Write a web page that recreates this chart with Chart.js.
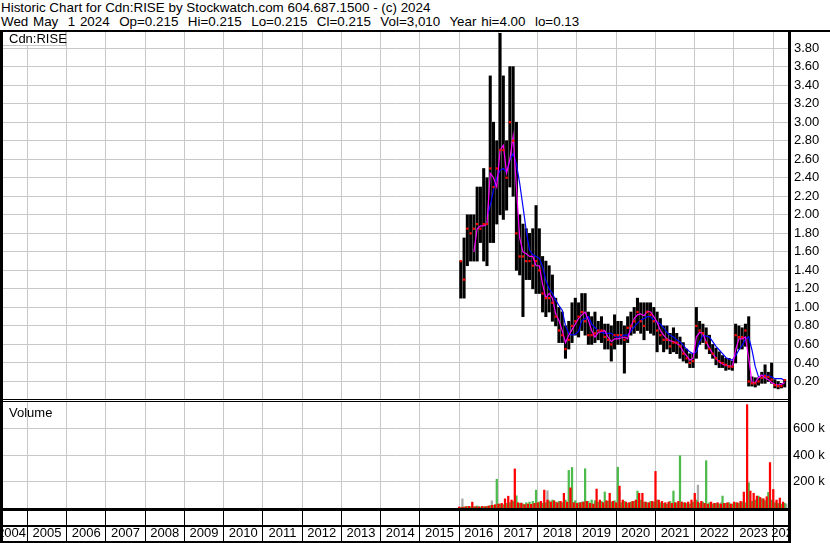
<!DOCTYPE html>
<html>
<head>
<meta charset="utf-8">
<script src="https://cdn.jsdelivr.net/npm/chart.js@4.4.1/dist/chart.umd.min.js"></script>
<style>
  html, body { margin: 0; padding: 0; background: #fff; }
  #wrap { position: relative; width: 830px; height: 543px; overflow: hidden; font-family: "Liberation Sans", Arial, sans-serif; }
  #head { position: absolute; left: 1px; top: 1px; font-size: 13.4px; line-height: 14px; white-space: pre; color: #000; }
  #head .l2 { word-spacing: 1px; }
  canvas { position: absolute; left: 0; }
  #priceCanvas { top: 32px; }
  #volCanvas { top: 402px; }
  .ln { position: absolute; background: #000; z-index: 5; }
  .lbl { position: absolute; font-size: 13px; line-height: 14px; color: #000; z-index: 6; white-space: pre; }
</style>
</head>
<body>
<div id="wrap">
  <div id="head">Historic Chart for Cdn:RISE by Stockwatch.com 604.687.1500 - (c) 2024
<span class="l2">Wed May  1 2024  Op=0.215  Hi=0.215  Lo=0.215  Cl=0.215  Vol=3,010  Year hi=4.00  lo=0.13</span></div>
  <canvas id="priceCanvas" width="830" height="368"></canvas>
  <canvas id="volCanvas" width="830" height="141"></canvas>

  <div class="lbl" style="left:3px;top:32px;width:56px;height:13px;padding-left:6px;background:#fff;border-right:1px solid #c8c8c8;border-bottom:1px solid #c8c8c8;">Cdn:RISE</div>
  <div class="lbl" style="left:9px;top:406px;">Volume</div>

  <div class="ln" style="left:0;top:30px;width:830px;height:2px"></div>
  <div class="ln" style="left:0;top:30px;width:3px;height:513px"></div>
  <div class="ln" style="left:788px;top:30px;width:3px;height:513px"></div>
  <div class="ln" style="left:0;top:399px;width:791px;height:1px"></div>
  <div class="ln" style="left:0;top:401px;width:791px;height:1px"></div>
  <div class="ln" style="left:0;top:508px;width:791px;height:3px"></div>
  <div class="ln" style="left:0;top:525px;width:791px;height:2px"></div>
  <div class="ln" style="left:0;top:541px;width:791px;height:2px"></div>
  <div class="ln" style="left:791px;top:509px;width:39px;height:34px;background:#fff"></div>
</div>

<script>
// monthly values, Jan 2016 .. Apr 2024
const firstYear = 2016;

const priceLow = [
  1.10, 1.10, 1.45, 1.50, 1.50, 1.50, 1.70, 1.50, 1.45, 1.70, 1.70, 1.90,
  2.00, 1.95, 2.05, 2.30, 2.20, 1.40, 1.35, 0.90, 1.30, 1.30, 1.20, 1.15,
  1.15, 0.95, 0.90, 0.95, 0.85, 0.80, 0.62, 0.62, 0.45, 0.55, 0.62, 0.70,
  0.68, 0.75, 0.70, 0.60, 0.60, 0.62, 0.65, 0.62, 0.55, 0.55, 0.42, 0.55,
  0.60, 0.60, 0.29, 0.62, 0.70, 0.72, 0.75, 0.72, 0.65, 0.75, 0.72, 0.70,
  0.52, 0.60, 0.52, 0.55, 0.50, 0.52, 0.50, 0.45, 0.42, 0.40, 0.35, 0.35,
  0.45, 0.60, 0.62, 0.55, 0.50, 0.45, 0.38, 0.35, 0.35, 0.32, 0.33, 0.32,
  0.40, 0.55, 0.55, 0.58, 0.15, 0.15, 0.14, 0.16, 0.18, 0.18, 0.20, 0.18,
  0.13, 0.12, 0.13, 0.14
];

const priceHigh = [
  1.50, 1.75, 2.00, 2.00, 2.00, 2.30, 2.30, 2.50, 2.40, 3.50, 3.00, 2.80,
  3.96, 3.50, 2.80, 3.60, 3.60, 3.00, 2.00, 1.90, 1.85, 1.80, 1.85, 2.10,
  1.85, 1.55, 1.50, 1.45, 1.35, 1.10, 1.00, 0.95, 0.80, 0.85, 1.05, 1.10,
  1.05, 1.15, 1.15, 0.95, 0.90, 0.95, 0.85, 0.90, 0.82, 0.82, 0.80, 0.92,
  0.85, 0.85, 0.80, 0.90, 0.95, 1.00, 1.10, 1.05, 1.05, 1.05, 1.05, 1.00,
  0.95, 0.88, 0.80, 0.80, 0.72, 0.78, 0.72, 0.68, 0.62, 0.55, 0.50, 0.50,
  1.00, 0.85, 0.82, 0.78, 0.70, 0.60, 0.56, 0.52, 0.48, 0.45, 0.45, 0.42,
  0.82, 0.80, 0.78, 0.82, 0.90, 0.25, 0.24, 0.24, 0.30, 0.38, 0.30, 0.40,
  0.22, 0.20, 0.18, 0.22
];

const priceClose = [
  1.50, 1.30, 1.85, 1.80, 1.85, 1.90, 1.85, 1.90, 1.90, 2.50, 2.30, 2.50,
  2.70, 2.70, 2.40, 3.00, 2.80, 1.80, 1.55, 1.55, 1.50, 1.50, 1.45, 1.50,
  1.40, 1.15, 1.10, 1.10, 1.05, 0.90, 0.75, 0.70, 0.55, 0.65, 0.80, 0.85,
  0.90, 0.95, 0.85, 0.70, 0.70, 0.72, 0.75, 0.75, 0.68, 0.65, 0.60, 0.70,
  0.70, 0.70, 0.65, 0.78, 0.80, 0.85, 0.95, 0.85, 0.80, 0.95, 0.92, 0.85,
  0.75, 0.70, 0.65, 0.65, 0.58, 0.62, 0.62, 0.58, 0.50, 0.45, 0.40, 0.42,
  0.80, 0.75, 0.72, 0.62, 0.55, 0.50, 0.45, 0.42, 0.40, 0.38, 0.36, 0.36,
  0.70, 0.68, 0.68, 0.75, 0.20, 0.18, 0.18, 0.20, 0.24, 0.26, 0.25, 0.22,
  0.16, 0.15, 0.15, 0.215
];

const maShort = [
  null, null, null, null, 1.60, 1.85, 1.88, 1.88, 1.90, 2.45, 2.40, 2.30,
  2.70, 2.75, 2.45, 2.60, 2.85, 2.30, 1.75, 1.60, 1.58, 1.55, 1.55, 1.45,
  1.45, 1.25, 1.10, 1.15, 1.10, 0.93, 0.86, 0.75, 0.62, 0.70, 0.76, 0.82,
  0.88, 0.92, 0.95, 0.86, 0.75, 0.68, 0.73, 0.74, 0.75, 0.68, 0.63, 0.66,
  0.66, 0.67, 0.68, 0.66, 0.79, 0.88, 0.92, 0.93, 0.91, 0.96, 0.95, 0.90,
  0.84, 0.75, 0.70, 0.66, 0.64, 0.63, 0.61, 0.59, 0.52, 0.48, 0.43, 0.45,
  0.68, 0.73, 0.72, 0.63, 0.56, 0.50, 0.45, 0.41, 0.39, 0.37, 0.37, 0.36,
  0.54, 0.66, 0.66, 0.68, 0.45, 0.19, 0.19, 0.24, 0.27, 0.24, 0.22, 0.19,
  0.17, 0.16, 0.17, 0.19
];

const maLong = [
  null, null, null, null, null, null, null, null, 1.98, 2.10, 2.27, 2.40,
  2.48, 2.50, 2.46, 2.59, 2.66, 2.55, 2.34, 2.09, 1.83, 1.62, 1.57, 1.55,
  1.53, 1.44, 1.29, 1.20, 1.15, 1.08, 1.02, 0.97, 0.80, 0.72, 0.70, 0.71,
  0.74, 0.86, 0.88, 0.90, 0.82, 0.78, 0.75, 0.73, 0.72, 0.72, 0.72, 0.69,
  0.68, 0.69, 0.70, 0.70, 0.74, 0.79, 0.83, 0.86, 0.88, 0.90, 0.90, 0.86,
  0.84, 0.82, 0.78, 0.73, 0.70, 0.68, 0.65, 0.63, 0.59, 0.55, 0.52, 0.50,
  0.52, 0.63, 0.70, 0.69, 0.68, 0.63, 0.58, 0.54, 0.50, 0.46, 0.44, 0.43,
  0.48, 0.54, 0.59, 0.66, 0.68, 0.54, 0.36, 0.25, 0.26, 0.27, 0.26, 0.25,
  0.23, 0.23, 0.23, 0.21
];

// volume in thousands: down days (red), up days (green), unchanged (grey)
const volDown = [
  8, 6, 10, 12, 44, 10, 8, 12, 10, 15, 20, 25,
  30, 35, 69, 89, 60, 295, 40, 35, 25, 30, 28, 35,
  40, 50, 135, 60, 45, 55, 40, 50, 111, 45, 152, 40,
  35, 40, 45, 50, 35, 30, 143, 60, 40, 55, 111, 50,
  40, 165, 60, 45, 40, 50, 60, 111, 111, 45, 40, 50,
  276, 60, 50, 40, 45, 35, 40, 50, 45, 40, 45, 60,
  111, 45, 50, 35, 30, 45, 35, 40, 30, 35, 40, 30,
  45, 40, 50, 120, 780, 128, 111, 90, 80, 70, 85, 343,
  140, 60, 75, 45
];

const volUp = [
  5, 8, 12, 10, 10, 15, 8, 10, 12, 18, 20, 217,
  30, 25, 35, 40, 50, 92, 35, 30, 40, 45, 50, 135,
  45, 35, 40, 55, 60, 45, 50, 40, 60, 284, 306, 55,
  40, 45, 296, 50, 60, 55, 45, 50, 121, 50, 45, 55,
  308, 40, 50, 35, 45, 50, 128, 60, 45, 40, 50, 45,
  60, 40, 35, 30, 50, 128, 40, 394, 40, 35, 30, 45,
  60, 35, 45, 357, 40, 30, 35, 30, 90, 35, 40, 30,
  40, 35, 45, 40, 190, 50, 60, 90, 70, 55, 118, 60,
  40, 35, 30, 35
];

const volFlat = [
  69, 5, 5, 8, 5, 10, 5, 8, 10, 54, 12, 10,
  15, 20, 25, 20, 30, 25, 40, 25, 20, 25, 30, 20,
  35, 30, 130, 30, 25, 30, 35, 25, 30, 55, 40, 30,
  25, 45, 40, 30, 25, 20, 30, 40, 35, 60, 40, 35,
  126, 30, 25, 40, 30, 25, 35, 30, 25, 30, 25, 20,
  35, 25, 30, 20, 25, 30, 25, 45, 30, 25, 20, 20,
  173, 30, 25, 20, 25, 35, 20, 40, 25, 20, 20, 25,
  30, 25, 20, 35, 40, 30, 25, 50, 45, 30, 40, 30,
  35, 30, 25, 30
];

const yearBounds = [2005, 2006, 2007, 2008, 2009, 2010, 2011, 2012, 2013, 2014,
  2015, 2016, 2017, 2018, 2019, 2020, 2021, 2022, 2023, 2024];
const yearLabels = ['2004', '2005', '2006', '2007', '2008', '2009', '2010', '2011',
  '2012', '2013', '2014', '2015', '2016', '2017', '2018', '2019', '2020', '2021',
  '2022', '2023', '2024'];
const priceTicks = [0.2, 0.4, 0.6, 0.8, 1.0, 1.2, 1.4, 1.6, 1.8, 2.0,
  2.2, 2.4, 2.6, 2.8, 3.0, 3.2, 3.4, 3.6, 3.8];
const volTicks = [200, 400, 600];

const xMin = 2004.381, xMax = 2024.376;
const monthX = i => firstYear + (i + 0.5) / 12;
const points = arr => arr.map((v, i) => ({ x: monthX(i), y: v }));

// label sits mid-year, the cut-off first and last years a bit inward
const labelPos = yearLabels.map((t, i) => {
  if (i === 0) return 2004.6;
  if (i === yearLabels.length - 1) return 2024.32;
  return Number(t) + 0.5;
});

// scales must not push the plot area in for their labels
const noPad = s => { s.paddingTop = 0; s.paddingBottom = 0; s.paddingLeft = 0; s.paddingRight = 0; };

Chart.defaults.font.family = '"Liberation Sans", Arial, sans-serif';
Chart.defaults.font.size = 13;
Chart.defaults.color = '#000';

const gridGrey = '#c8c8c8';

new Chart(document.getElementById('priceCanvas'), {
  type: 'bar',
  data: {
    datasets: [
      {
        type: 'line',
        data: points(priceClose),
        showLine: false,
        pointStyle: 'rect',
        pointRadius: 1.6,
        pointBackgroundColor: '#ff0000',
        pointBorderWidth: 0,
        order: 0
      },
      {
        type: 'line',
        data: points(maShort),
        borderColor: '#ff00ff',
        borderWidth: 1.2,
        pointRadius: 0,
        order: 1
      },
      {
        type: 'line',
        data: points(maLong),
        borderColor: '#0000ff',
        borderWidth: 1.2,
        pointRadius: 0,
        order: 2
      },
      {
        type: 'bar',
        data: priceLow.map((v, i) => ({ x: monthX(i), y: [v, priceHigh[i]] })),
        backgroundColor: '#000',
        barThickness: 2.4,
        order: 3
      }
    ]
  },
  options: {
    responsive: false,
    animation: false,
    layout: { padding: { left: 3, top: 0, right: 0, bottom: 0 }, autoPadding: false },
    plugins: { legend: { display: false }, tooltip: { enabled: false } },
    scales: {
      x: {
        type: 'linear',
        min: xMin,
        max: xMax,
        offset: false,
        afterBuildTicks: s => { s.ticks = yearBounds.map(v => ({ value: v })); },
        afterFit: s => { s.height = 0; noPad(s); },
        ticks: { display: false },
        grid: { color: gridGrey, drawTicks: false, offset: false },
        border: { display: false }
      },
      y: {
        position: 'right',
        min: 0,
        max: 3.974,
        afterBuildTicks: s => { s.ticks = priceTicks.map(v => ({ value: v })); },
        afterFit: s => { s.width = 42; noPad(s); },
        ticks: { padding: 6, autoSkip: false, callback: v => v.toFixed(2) },
        grid: { color: gridGrey, drawTicks: false },
        border: { display: false }
      }
    }
  }
});

new Chart(document.getElementById('volCanvas'), {
  type: 'bar',
  data: {
    datasets: [
      { data: points(volDown), backgroundColor: '#ff0000' },
      { data: points(volUp), backgroundColor: '#4cbb4c' },
      { data: points(volFlat), backgroundColor: '#a8a8a8' }
    ]
  },
  options: {
    responsive: false,
    animation: false,
    barThickness: 1.6,
    layout: { padding: { left: 3, top: 0, right: 0, bottom: 0 }, autoPadding: false },
    plugins: { legend: { display: false }, tooltip: { enabled: false } },
    scales: {
      x: {
        type: 'linear',
        min: xMin,
        max: xMax,
        offset: false,
        afterBuildTicks: s => {
          s.ticks = yearBounds.map(v => ({ value: v }))
            .concat(yearLabels.map((t, i) => ({ value: labelPos[i], text: t })));
        },
        afterFit: s => { s.height = 35; noPad(s); },
        ticks: {
          autoSkip: false,
          maxRotation: 0,
          minRotation: 0,
          padding: -17,
          callback: (v, i, ticks) => ticks[i].text || ''
        },
        grid: {
          offset: false,
          tickLength: 35,
          color: ctx => (ctx.tick && ctx.tick.text ? 'rgba(0,0,0,0)' : gridGrey),
          tickColor: ctx => (ctx.tick && ctx.tick.text ? 'rgba(0,0,0,0)' : '#000')
        },
        border: { display: false }
      },
      y: {
        position: 'right',
        min: 0,
        max: 800,
        afterBuildTicks: s => { s.ticks = volTicks.map(v => ({ value: v })); },
        afterFit: s => { s.width = 42; noPad(s); },
        ticks: { padding: 5, autoSkip: false, callback: v => v + ' k' },
        grid: { color: gridGrey, drawTicks: false },
        border: { display: false }
      }
    }
  }
});
</script>
</body>
</html>
